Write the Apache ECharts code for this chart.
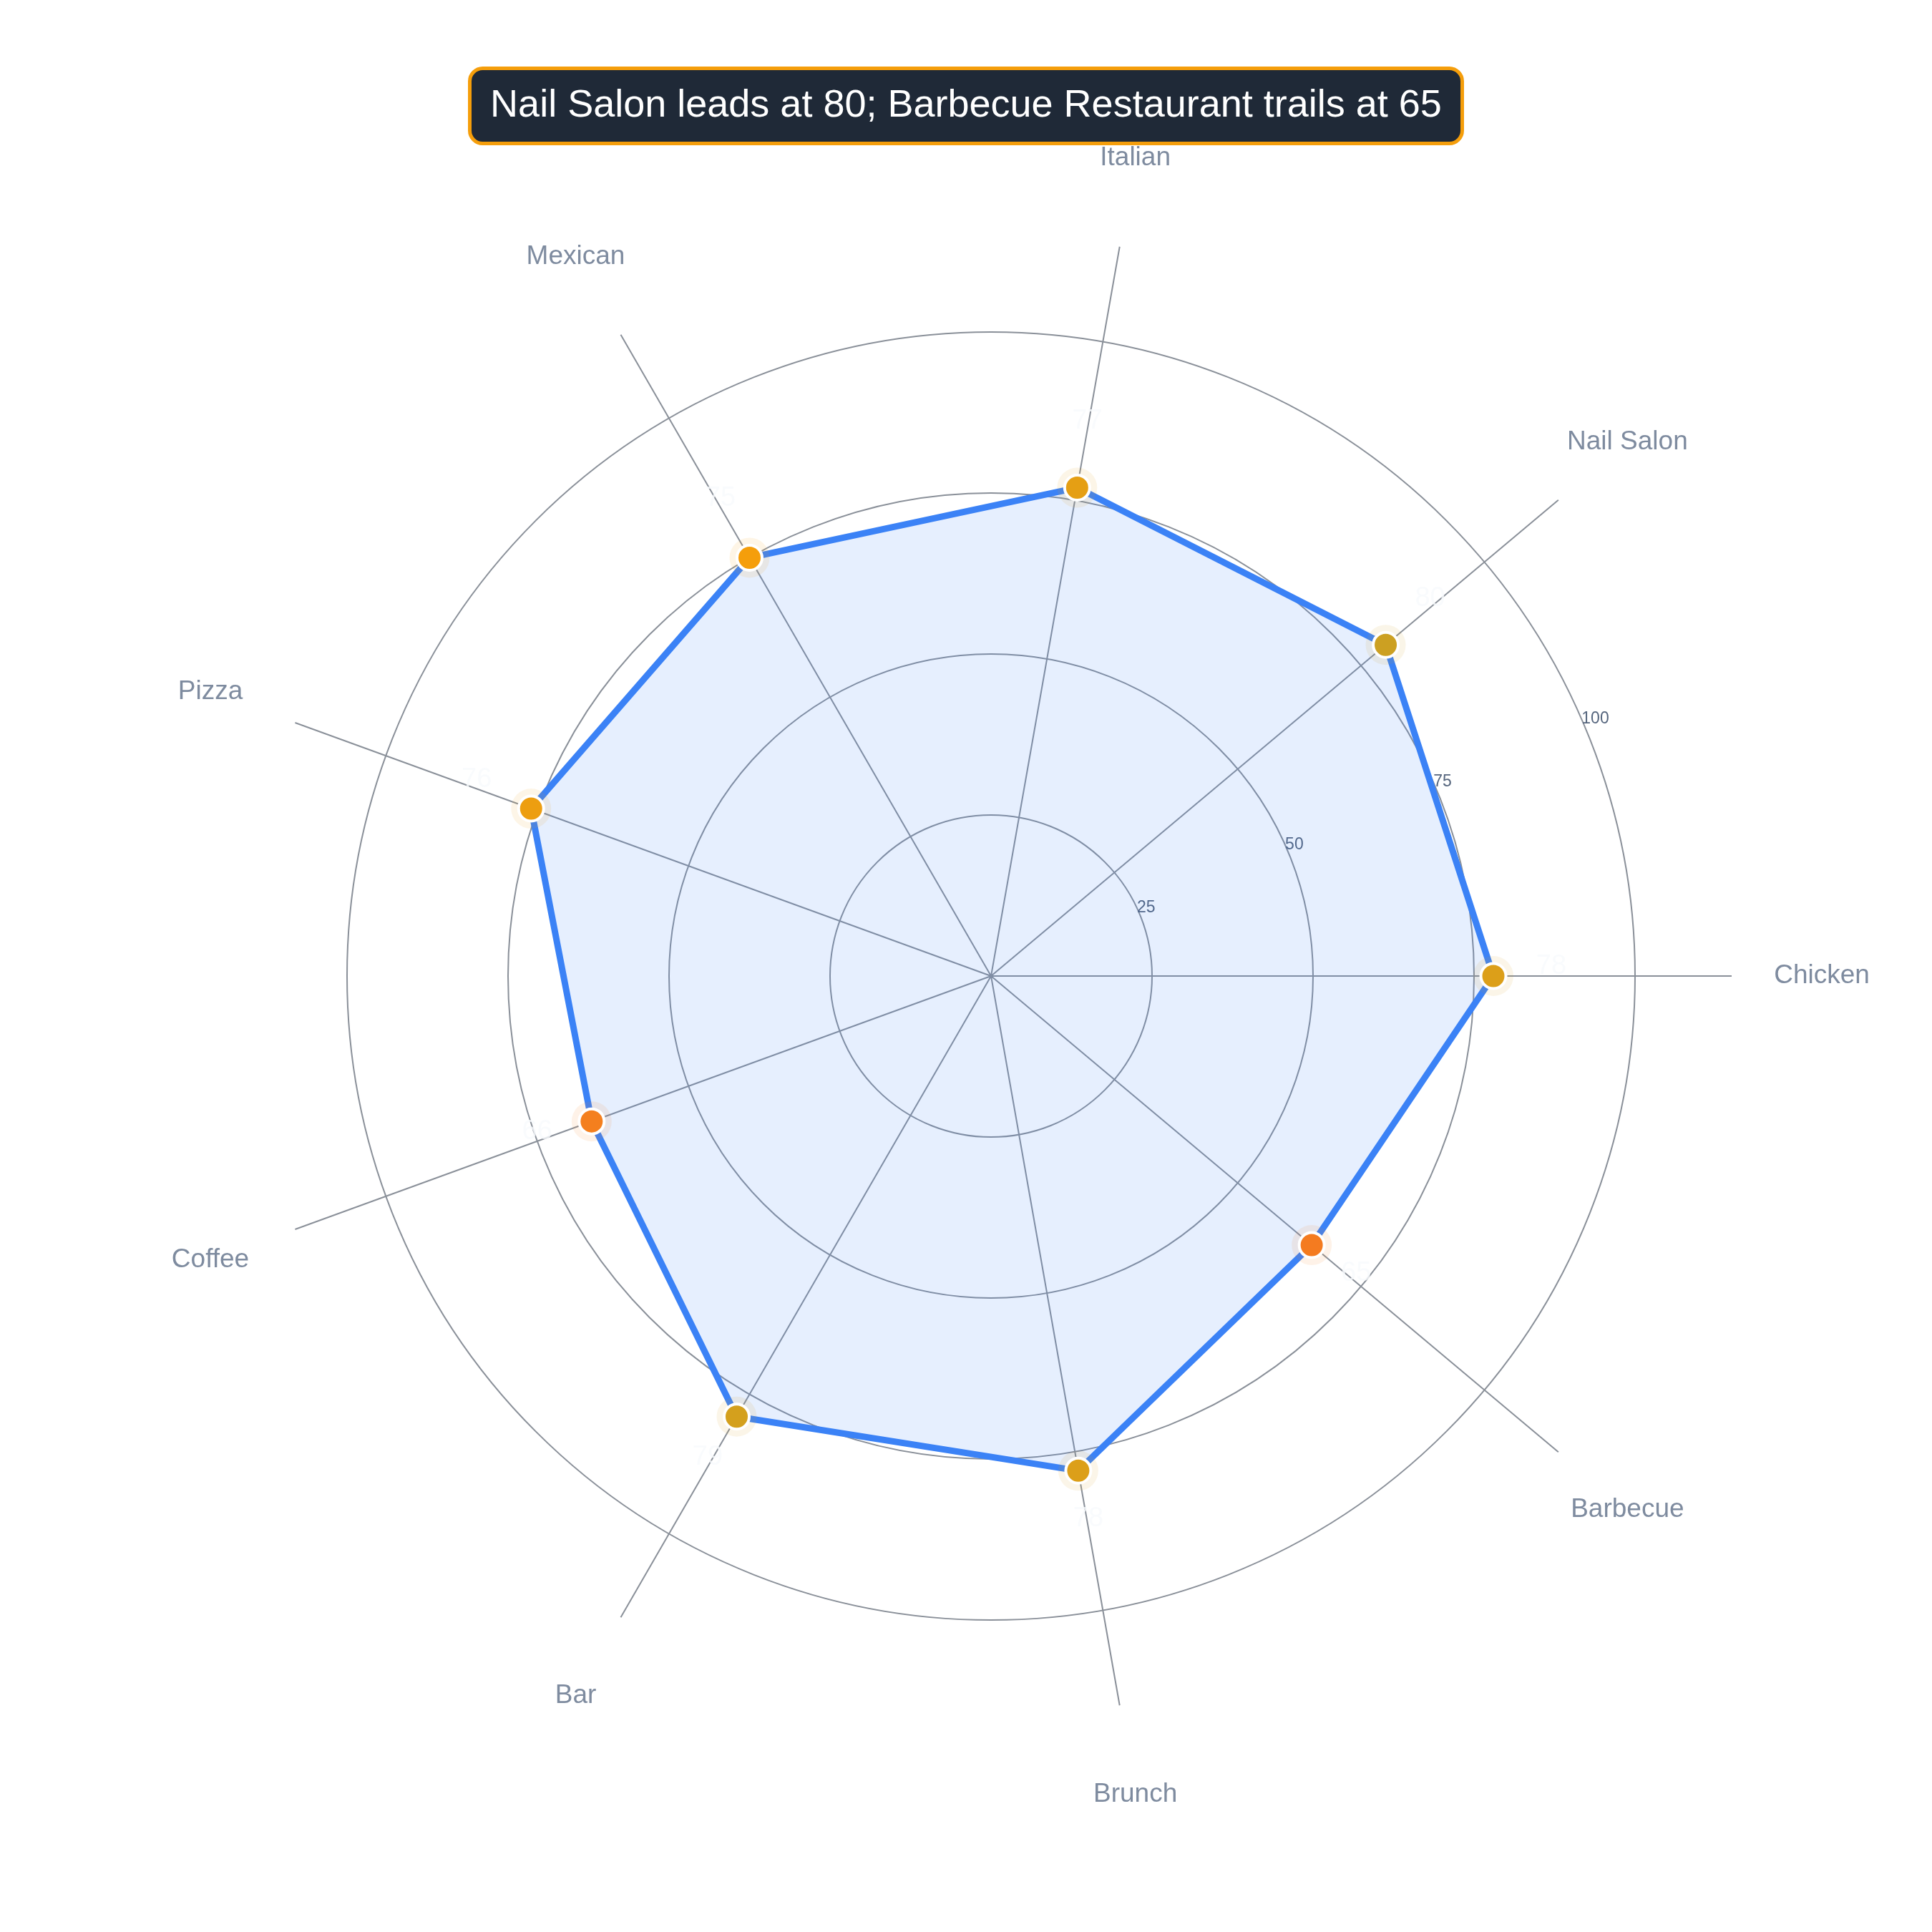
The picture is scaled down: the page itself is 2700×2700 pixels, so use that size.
<!DOCTYPE html>
<html><head><meta charset="utf-8">
<script src="https://cdn.jsdelivr.net/npm/echarts@6/dist/echarts.min.js"></script>
<style>html,body{margin:0;padding:0;background:#fff}#c{width:2700px;height:2700px}</style>
</head><body><div id="c"></div>
<script>
const categories = ['Chicken', 'Nail Salon', 'Italian', 'Mexican', 'Pizza', 'Coffee', 'Bar', 'Brunch', 'Barbecue'];
const values = [78, 80, 77, 75, 76, 66, 79, 78, 65];
const radialTicks = [25, 50, 75, 100];
const titleText = 'Nail Salon leads at 80; Barbecue Restaurant trails at 65';

const FONT = 'Liberation Sans, Arial, Helvetica, sans-serif';
const step = 360 / categories.length;
const angles = categories.map((c, i) => i * step);
const unitPx = 9;           // pixels per data unit
const spokeMax = 115;       // spokes extend to this value
const labelR = 129;         // category label radius (data units)
const center = [1385, 1364];

const lineData = values.map((v, i) => [v, angles[i]]).concat([[values[0], 360]]);
const pointData = values.map((v, i) => [v, angles[i]]);
const valueLabelData = values.map((v, i) => [v + 9, angles[i], v]);
const catLabelData = categories.map((c, i) => ({ name: c, value: [labelR, angles[i]] }));

const chart = echarts.init(document.getElementById('c'), null, { renderer: 'canvas' });
chart.setOption({
  animation: false,
  backgroundColor: '#ffffff',
  title: {
    text: titleText,
    left: 'center',
    top: 95,
    backgroundColor: '#1F2937',
    borderColor: '#F59E0B',
    borderWidth: 5,
    borderRadius: 18,
    padding: [23, 29],
    textStyle: { color: '#ffffff', fontSize: 54, fontFamily: FONT, fontWeight: 'normal', lineHeight: 60 }
  },
  polar: [
    { center: center, radius: spokeMax * unitPx },
    { center: center, radius: 100 * unitPx }
  ],
  angleAxis: [
    {
      polarIndex: 0, type: 'value', min: 0, max: 360, interval: step,
      startAngle: 0, clockwise: false,
      axisLine: { show: false }, axisTick: { show: false }, axisLabel: { show: false },
      splitLine: { show: true, lineStyle: { color: '#8A9099', width: 2 } }
    },
    {
      polarIndex: 1, type: 'value', min: 0, max: 360, interval: step,
      startAngle: 23, clockwise: false,
      axisLine: { show: false }, axisTick: { show: false }, axisLabel: { show: false },
      splitLine: { show: false }
    }
  ],
  radiusAxis: [
    { polarIndex: 0, type: 'value', min: 0, max: spokeMax, show: false },
    {
      polarIndex: 1, type: 'value', min: 0, max: 100, interval: 25,
      axisLine: { show: false }, axisTick: { show: false },
      axisLabel: {
        show: true, margin: 8, align: 'left', verticalAlign: 'middle',
        color: '#55657D', fontSize: 23, fontFamily: FONT,
        formatter: v => radialTicks.includes(v) ? String(v) : ''
      },
      splitLine: { show: true, lineStyle: { color: '#8A9099', width: 2 } }
    }
  ],
  visualMap: {
    type: 'continuous', show: false, min: 65, max: 80, dimension: 0, seriesIndex: [1, 2],
    inRange: { color: ['#F47B20', '#F58D16', '#F59E0B', '#CCA022'] }
  },
  series: [
    {
      type: 'line', coordinateSystem: 'polar', polarIndex: 0, data: lineData,
      symbol: 'none', smooth: false, silent: true, z: 2,
      lineStyle: { color: '#3B82F6', width: 9, join: 'round' },
      areaStyle: { color: '#3B82F6', opacity: 0.13 }
    },
    {
      type: 'scatter', coordinateSystem: 'polar', polarIndex: 0, data: pointData,
      symbol: 'circle', symbolSize: 56, silent: true, z: 3,
      itemStyle: { opacity: 0.1 }
    },
    {
      type: 'scatter', coordinateSystem: 'polar', polarIndex: 0, data: pointData,
      symbol: 'circle', symbolSize: 35, z: 4,
      itemStyle: { borderColor: '#ffffff', borderWidth: 4, opacity: 1 }
    },
    {
      type: 'scatter', coordinateSystem: 'polar', polarIndex: 0, data: valueLabelData,
      symbolSize: 1, clip: false, silent: true, z: 5,
      itemStyle: { color: 'rgba(0,0,0,0)' },
      label: {
        show: true, position: 'inside', offset: [0, -13],
        formatter: p => String(p.value[2]),
        color: '#F8FAFC', fontSize: 38, fontFamily: FONT
      }
    },
    {
      type: 'scatter', coordinateSystem: 'polar', polarIndex: 0, data: catLabelData,
      symbolSize: 1, clip: false, silent: true, z: 5,
      itemStyle: { color: 'rgba(0,0,0,0)' },
      label: {
        show: true, position: 'inside', formatter: '{b}',
        color: '#5E6E87', fontSize: 37, fontFamily: FONT
      }
    }
  ]
});
</script></body></html>
